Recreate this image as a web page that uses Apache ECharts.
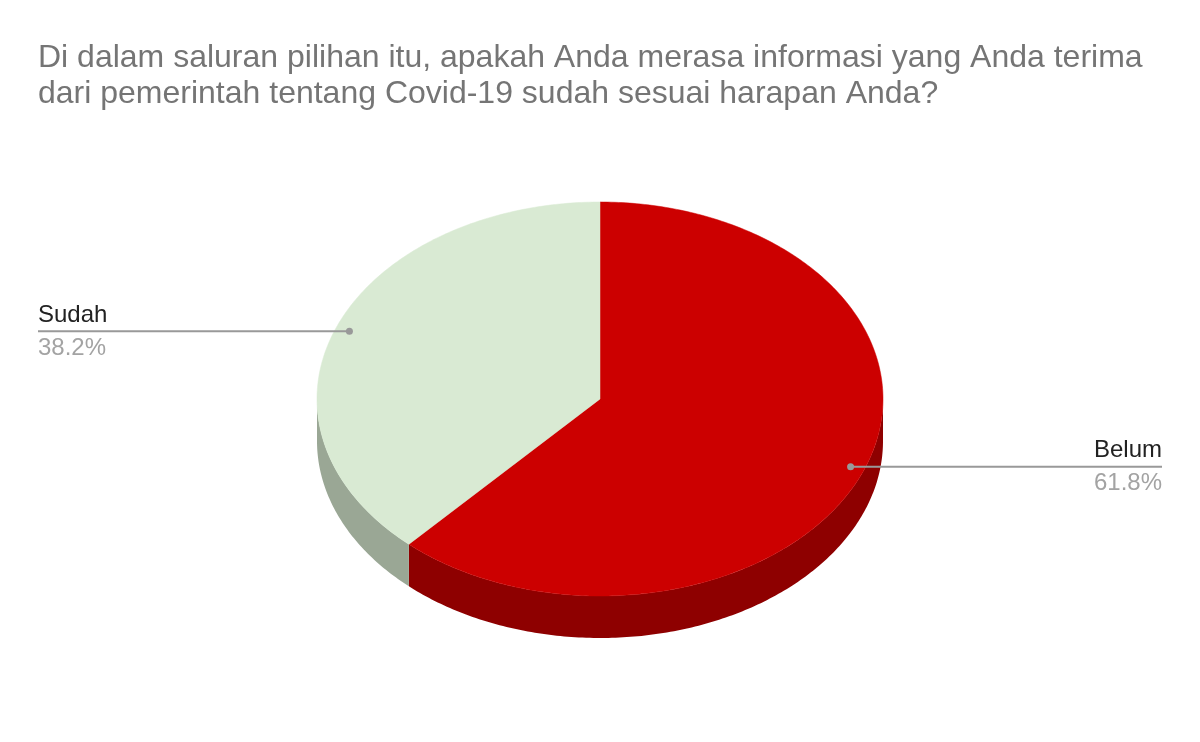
<!DOCTYPE html>
<html>
<head>
<meta charset="utf-8">
<title>Covid-19 informasi pemerintah</title>
<script src="https://cdn.jsdelivr.net/npm/echarts@6/dist/echarts.min.js"></script>
<style>
    html, body { margin: 0; padding: 0; background: #fff; }
    #main { width: 1200px; height: 742px; }
</style>
</head>
<body>
<div id="main"></div>
<script>
// data
var categories = ['Belum', 'Sudah'];
var values = [61.8, 38.2];

var titleText = 'Di dalam saluran pilihan itu, apakah Anda merasa informasi yang Anda terima\n' +
    'dari pemerintah tentang Covid-19 sudah sesuai harapan Anda?';

// colours: top face / side wall
var topColors = ['#cc0000', '#d9ead3'];
var sideColors = ['#8e0000', '#9aa795'];

// geometry of the tilted pie
var cx = 600, cy = 399, rx = 283, ry = 197, depth = 42;

var total = values.reduce(function (a, b) { return a + b; }, 0);

// start / end angle of slice i, clockwise from 12 o'clock
function sliceAngles(i) {
    var before = 0;
    for (var k = 0; k < i; k++) before += values[k];
    var a0 = before / total * Math.PI * 2;
    var a1 = (before + values[i]) / total * Math.PI * 2;
    return [a0, a1];
}

function ellipsePoint(theta, dy, f) {
    f = f || 1;
    return [cx + rx * f * Math.sin(theta), cy + dy - ry * f * Math.cos(theta)];
}

function arcPoints(a0, a1, dy) {
    var n = Math.max(2, Math.ceil((a1 - a0) / (Math.PI / 240)));
    var pts = [];
    for (var j = 0; j <= n; j++) {
        pts.push(ellipsePoint(a0 + (a1 - a0) * j / n, dy));
    }
    return pts;
}

var seriesData = values.map(function (v, i) { return { name: categories[i], value: v }; });

var myChart = echarts.init(document.getElementById('main'));

var option = {
    backgroundColor: '#ffffff',
    animation: false,
    title: {
        text: titleText,
        left: 38,
        top: 40,
        padding: 0,
        textStyle: {
            color: '#757575',
            fontSize: 32,
            fontWeight: 'normal',
            fontFamily: 'Liberation Sans, Arial, sans-serif',
            lineHeight: 36
        }
    },
    series: [
        // side walls (only the front half is visible)
        {
            type: 'custom',
            coordinateSystem: 'none',
            z: 1,
            data: seriesData,
            renderItem: function (params, api) {
                var i = params.dataIndex;
                var ang = sliceAngles(i);
                var a0 = Math.max(ang[0], Math.PI / 2);
                var a1 = Math.min(ang[1], Math.PI * 1.5);
                if (a0 >= a1) return null;
                var upper = arcPoints(a0, a1, 0);
                var lower = arcPoints(a0, a1, depth).reverse();
                return {
                    type: 'polygon',
                    shape: { points: upper.concat(lower) },
                    style: { fill: sideColors[i] }
                };
            }
        },
        // top faces
        {
            type: 'custom',
            coordinateSystem: 'none',
            z: 2,
            data: seriesData,
            renderItem: function (params, api) {
                var i = params.dataIndex;
                var ang = sliceAngles(i);
                var pts = [[cx, cy]].concat(arcPoints(ang[0], ang[1], 0));
                return {
                    type: 'polygon',
                    shape: { points: pts },
                    style: { fill: topColors[i], stroke: topColors[i], lineWidth: 0.5 }
                };
            }
        },
        // leader lines and labels
        {
            type: 'custom',
            coordinateSystem: 'none',
            z: 3,
            data: seriesData,
            renderItem: function (params, api) {
                var i = params.dataIndex;
                var ang = sliceAngles(i);
                var mid = (ang[0] + ang[1]) / 2;
                var dot = ellipsePoint(mid, 0, 0.95);
                var onLeft = Math.sin(mid) < 0;
                var endX = onLeft ? 38 : 1162;
                var align = onLeft ? 'left' : 'right';
                var pct = (values[i] / total * 100).toFixed(1) + '%';
                return {
                    type: 'group',
                    children: [
                        {
                            type: 'line',
                            shape: { x1: dot[0], y1: dot[1], x2: endX, y2: dot[1] },
                            style: { stroke: '#999999', lineWidth: 2 }
                        },
                        {
                            type: 'circle',
                            shape: { cx: dot[0], cy: dot[1], r: 3.5 },
                            style: { fill: '#999999' }
                        },
                        {
                            type: 'text',
                            x: endX,
                            y: dot[1] - 4,
                            style: {
                                text: categories[i],
                                fill: '#222222',
                                fontSize: 24,
                                fontFamily: 'Liberation Sans, Arial, sans-serif',
                                align: align,
                                verticalAlign: 'bottom'
                            }
                        },
                        {
                            type: 'text',
                            x: endX,
                            y: dot[1] + 5,
                            style: {
                                text: pct,
                                fill: '#a3a3a3',
                                fontSize: 24,
                                fontFamily: 'Liberation Sans, Arial, sans-serif',
                                align: align,
                                verticalAlign: 'top'
                            }
                        }
                    ]
                };
            }
        }
    ]
};

myChart.setOption(option);
</script>
</body>
</html>
